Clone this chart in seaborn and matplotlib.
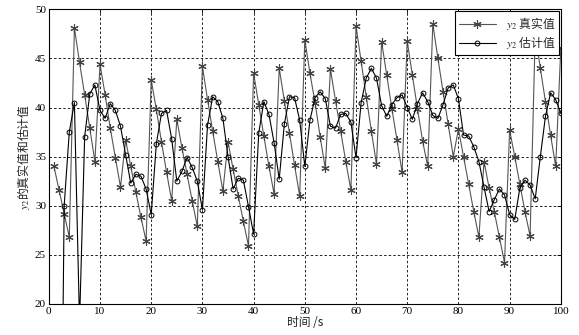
import pandas as pd
import matplotlib
matplotlib.use("Agg")
import matplotlib.pyplot as plt
from matplotlib.font_manager import FontProperties
import seaborn as sns

# --- data ---
t = list(range(1, 101))

y_true = [34.0, 31.6, 29.2, 26.8, 48.1, 44.6, 41.3, 37.9, 34.5, 44.4,
          41.3, 37.9, 34.9, 31.9, 36.7, 34.0, 31.4, 28.8, 26.4, 42.8,
          39.8, 36.5, 33.4, 30.5, 38.8, 35.9, 33.2, 30.5, 27.9, 44.2,
          40.8, 37.6, 34.5, 31.5, 36.5, 33.7, 31.0, 28.4, 25.9, 43.5,
          40.3, 37.1, 34.0, 31.2, 44.0, 40.7, 37.4, 34.1, 31.0, 46.9,
          43.5, 40.5, 37.0, 33.8, 43.9, 40.7, 37.6, 34.5, 31.6, 48.3,
          44.7, 41.1, 37.6, 34.2, 46.7, 43.3, 39.9, 36.7, 33.4, 46.8,
          43.3, 39.9, 36.6, 34.0, 48.5, 45.0, 41.6, 38.3, 35.0, 37.8,
          35.0, 32.2, 29.4, 26.8, 34.5, 31.8, 29.4, 26.8, 24.2, 37.7,
          35.0, 32.2, 29.4, 26.9, 47.5, 44.0, 40.6, 37.2, 34.0, 46.1]

y_est = [-20.0, -20.0, 30.0, 37.5, 40.5, 18.0, 37.0, 41.4, 42.3, 39.7,
         38.9, 40.4, 39.7, 38.1, 35.2, 32.3, 33.2, 33.0, 31.7, 29.1,
         36.3, 39.4, 39.7, 36.8, 32.5, 33.5, 34.9, 33.9, 32.5, 29.6,
         38.2, 41.1, 40.6, 38.9, 35.0, 31.7, 32.8, 32.6, 29.9, 27.1,
         37.4, 40.6, 39.3, 36.4, 32.7, 38.3, 41.1, 41.0, 38.7, 34.0,
         38.7, 41.0, 41.6, 40.9, 38.1, 37.9, 39.3, 39.4, 38.5, 34.9,
         40.5, 43.0, 44.0, 43.0, 40.2, 39.1, 40.3, 41.0, 41.3, 40.0,
         38.8, 40.4, 41.5, 40.6, 39.2, 38.9, 40.3, 42.0, 42.3, 40.9,
         37.2, 37.1, 36.0, 34.5, 31.9, 29.4, 30.6, 31.7, 31.1, 29.1,
         28.6, 31.8, 32.6, 32.1, 30.7, 35.0, 39.1, 41.5, 40.8, 39.4]

label_true = r'$y_2$ 真实值'
label_est = r'$y_2$ 估计值'

sns.set_theme(style="white")
plt.rcParams['font.family'] = ['Liberation Serif', 'Noto Sans CJK SC']
plt.rcParams['mathtext.fontset'] = 'stix'
plt.rcParams['xtick.direction'] = 'in'
plt.rcParams['ytick.direction'] = 'in'

cjk = FontProperties(family='Noto Sans CJK SC', size=8.5)

df = pd.DataFrame({'t': t, 'true': y_true, 'est': y_est})

fig = plt.figure(figsize=(5.79, 3.35), dpi=100)
ax = fig.add_axes([0.0843, 0.093, 0.8843, 0.879])

# MATLAB-style asterisk for the true values, hollow circles for the estimate
sns.lineplot(data=df, x='t', y='true', ax=ax, color='#555555', linewidth=0.8,
             marker=(6, 2, 0), markersize=6, markeredgecolor='#444444',
             markeredgewidth=0.8, label=label_true)
sns.lineplot(data=df, x='t', y='est', ax=ax, color='black', linewidth=0.8,
             marker='o', markersize=3.5, markeredgecolor='black',
             markerfacecolor='none', markeredgewidth=0.7, label=label_est)

ax.set_xlim(0, 100)
ax.set_ylim(20, 50)
ax.set_xticks(range(0, 101, 10))
ax.set_yticks(range(20, 51, 5))
ax.tick_params(top=True, right=True, length=3, width=0.6, labelsize=8, pad=2, colors='black')

ax.grid(True, color='black', linestyle=(0, (3, 2.5)), linewidth=0.6)
ax.set_axisbelow(True)
for s in ax.spines.values():
    s.set_color('black')
    s.set_linewidth(0.8)

ax.set_xlabel('时间 /s', fontproperties=cjk, labelpad=0, color='#222222')
ax.set_ylabel(r'$y_2$的真实值和估计值', fontproperties=cjk, labelpad=2, color='#222222')

leg = ax.legend(loc='upper right', prop=cjk, frameon=True, fancybox=False,
                edgecolor='black', framealpha=1, borderaxespad=0.15,
                handlelength=3.2, borderpad=0.3, labelspacing=0.2)
leg.get_frame().set_linewidth(0.8)

fig.savefig('out.png', dpi=100)
